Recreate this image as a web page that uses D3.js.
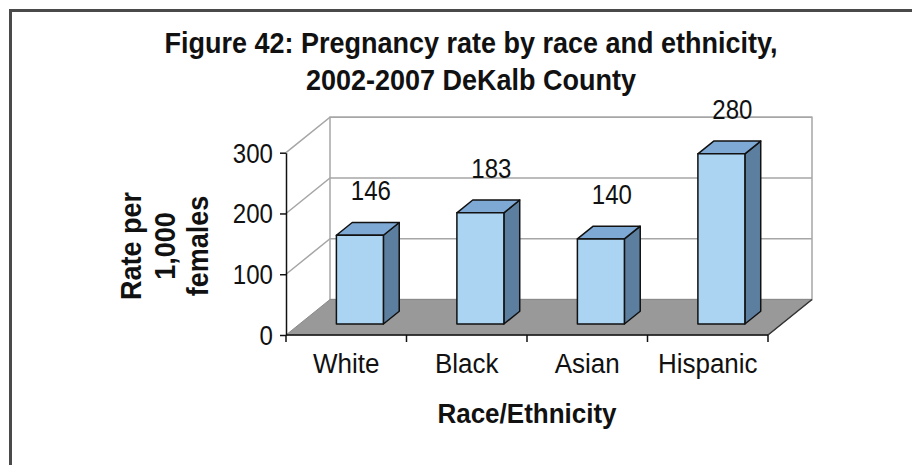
<!DOCTYPE html>
<html>
<head>
<meta charset="utf-8">
<script src="https://cdn.jsdelivr.net/npm/d3@7/dist/d3.min.js"></script>
<style>
  html, body { margin: 0; padding: 0; background: #fff; }
  svg { display: block; }
  text { font-family: "Liberation Sans", Arial, Helvetica, sans-serif; fill: #111; }
</style>
</head>
<body>
<svg id="chart" width="912" height="465"></svg>
<script>
// Pregnancy rate per 1,000 females, 2002-2007, DeKalb County
const categories = ["White", "Black", "Asian", "Hispanic"];
const rates = [146, 183, 140, 280];
const yTicks = [0, 100, 200, 300];
const titleLines = ["Figure 42: Pregnancy rate by race and ethnicity,", "2002-2007 DeKalb County"];
const yTitleLines = ["Rate per", "1,000", "females"];
const xTitle = "Race/Ethnicity";

const svg = d3.select("#chart");

// numbers are set in a condensed face
const NARROW = 0.86;

// outer frame (runs off the right and bottom of the page)
svg.append("rect")
  .attr("x", 10.5).attr("y", 10.5)
  .attr("width", 920).attr("height", 470)
  .attr("fill", "none").attr("stroke", "#4a4a4a").attr("stroke-width", 3);

// front plane scales
const x = d3.scaleBand().domain(categories).range([286, 768]).padding(0);
const y = d3.scaleLinear().domain([0, 300]).range([335, 152.7]);

// oblique depth of the 3-D box
const DX = 44, DY = -35.5;
const proj = (xf, v, t) => [xf + t * DX, y(v) + t * DY];
const poly = pts => "M" + pts.map(p => p.join(",")).join("L") + "Z";
const line = pts => "M" + pts.map(p => p.join(",")).join("L");

const [x0, x1] = x.range();
const vMax = y.domain()[1];

// back wall
const wall = svg.append("g");
wall.append("path")
  .attr("d", poly([proj(x0, 0, 1), proj(x1, 0, 1), proj(x1, vMax, 1), proj(x0, vMax, 1)]))
  .attr("fill", "#fff").attr("stroke", "#a6a6a6").attr("stroke-width", 1.5);

// gridlines across the side wall and the back wall
yTicks.filter(v => v > 0).forEach(v => {
  wall.append("path")
    .attr("d", line([proj(x0, v, 0), proj(x0, v, 1), proj(x1, v, 1)]))
    .attr("fill", "none").attr("stroke", "#a6a6a6").attr("stroke-width", 1.5);
});

// floor
svg.append("path")
  .attr("d", poly([proj(x0, 0, 0), proj(x1, 0, 0), proj(x1, 0, 1), proj(x0, 0, 1)]))
  .attr("fill", "#999999").attr("stroke", "#8a8a8a").attr("stroke-width", 1);
svg.append("path")
  .attr("d", line([proj(x1, 0, 0), proj(x1, 0, 1)]))
  .attr("stroke", "#333").attr("stroke-width", 1.5);

// bars
const T0 = 0.31, T1 = 0.67;
const barW = x.bandwidth() * 0.39;
const bars = svg.append("g").attr("stroke", "#111").attr("stroke-width", 1.5).attr("stroke-linejoin", "round");
categories.forEach((c, i) => {
  const v = rates[i];
  const xl = x(c) + (x.bandwidth() - barW) / 2, xr = xl + barW;
  // side face
  bars.append("path")
    .attr("d", poly([proj(xr, 0, T0), proj(xr, 0, T1), proj(xr, v, T1), proj(xr, v, T0)]))
    .attr("fill", "#5d7f9f");
  // top face
  bars.append("path")
    .attr("d", poly([proj(xl, v, T0), proj(xr, v, T0), proj(xr, v, T1), proj(xl, v, T1)]))
    .attr("fill", "#7fa9d5");
  // front face
  bars.append("path")
    .attr("d", poly([proj(xl, 0, T0), proj(xr, 0, T0), proj(xr, v, T0), proj(xl, v, T0)]))
    .attr("fill", "#abd3f2");
});

// value labels above each bar
categories.forEach((c, i) => {
  const v = rates[i];
  const xc = x(c) + x.bandwidth() / 2;
  const p = proj(xc, v, T1);
  svg.append("text")
    .attr("transform", `translate(${xc + 0.56 * DX},${p[1] - 22}) scale(${NARROW},1)`)
    .attr("text-anchor", "middle")
    .attr("font-size", 28)
    .text(v);
});

// y axis
const yAxis = d3.axisLeft(y).tickValues(yTicks).tickSize(6).tickSizeOuter(0).tickPadding(7);
const gy = svg.append("g").attr("transform", `translate(${x0},0)`).call(yAxis);
gy.select(".domain").attr("stroke", "#111").attr("stroke-width", 1.5);
gy.selectAll(".tick line").attr("stroke", "#111").attr("stroke-width", 1.5);
gy.selectAll(".tick text")
  .attr("font-family", null)
  .attr("font-size", 28).attr("fill", "#111")
  .attr("x", -13 / NARROW)
  .attr("transform", `scale(${NARROW},1)`)
  .attr("dy", "0.34em");

// x axis line with ticks at category boundaries
svg.append("line")
  .attr("x1", x0).attr("x2", x1).attr("y1", y(0)).attr("y2", y(0))
  .attr("stroke", "#111").attr("stroke-width", 1.5);
d3.range(categories.length + 1).forEach(k => {
  const xt = x0 + k * x.step();
  svg.append("line")
    .attr("x1", xt).attr("x2", xt).attr("y1", y(0)).attr("y2", y(0) + 7)
    .attr("stroke", "#111").attr("stroke-width", 1.5);
});
categories.forEach(c => {
  svg.append("text")
    .attr("transform", `translate(${x(c) + x.bandwidth() / 2},${y(0) + 38}) scale(1,1.06)`)
    .attr("text-anchor", "middle").attr("font-size", 26)
    .text(c);
});

// axis titles
svg.append("text")
  .attr("transform", "translate(527,423) scale(1,1.06)")
  .attr("text-anchor", "middle").attr("font-size", 26).attr("font-weight", "bold")
  .text(xTitle);

yTitleLines.forEach((t, i) => {
  svg.append("text")
    .attr("transform", `translate(${141 + i * 33.5},246) rotate(-90) scale(1,1.06)`)
    .attr("text-anchor", "middle").attr("font-size", 27).attr("font-weight", "bold")
    .text(t);
});

// chart title
titleLines.forEach((t, i) => {
  svg.append("text")
    .attr("transform", `translate(471,${52.5 + i * 37.5}) scale(1,1.08)`)
    .attr("text-anchor", "middle").attr("font-size", 27).attr("font-weight", "bold")
    .text(t);
});
</script>
</body>
</html>
